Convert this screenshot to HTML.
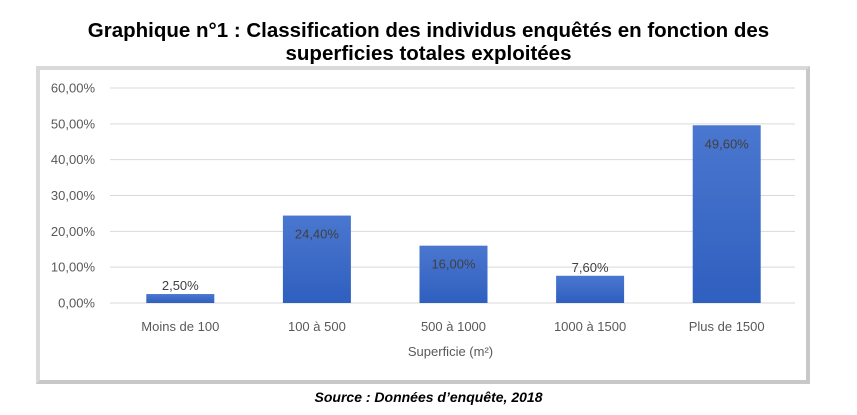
<!DOCTYPE html>
<html><head><meta charset="utf-8"><style>
body{margin:0;width:857px;height:415px;background:#fff;font-family:"Liberation Sans",sans-serif;position:relative;overflow:hidden}
.title{position:absolute;left:0;width:857px;top:19px;text-align:center;font-weight:bold;font-size:20.5px;line-height:23px;color:#000}
.frame{position:absolute;left:36px;top:66px;width:766px;height:310px;border:4px solid #d9d9d9;border-right-color:#c8c8c8;border-bottom-color:#c8c8c8;background:#fff}
.src{position:absolute;left:0;width:857px;top:389px;text-align:center;font-style:italic;font-weight:bold;font-size:14px}
</style></head><body>
<div class="title">Graphique n°1 : Classification des individus enquêtés en fonction des<br>superficies totales exploitées</div>
<div class="frame"></div>
<svg id="chart" width="857" height="415" style="position:absolute;left:0;top:0"></svg>
<div class="src">Source : Données d’enquête, 2018</div>
<script>
const categories=["Moins de 100","100 à 500","500 à 1000","1000 à 1500","Plus de 1500"];
const values=[2.5,24.4,16.0,7.6,49.6];
const valueLabels=["2,50%","24,40%","16,00%","7,60%","49,60%"];
const ticks=[0,10,20,30,40,50,60];
const tickLabels=["0,00%","10,00%","20,00%","30,00%","40,00%","50,00%","60,00%"];
const svg=document.getElementById('chart');const NS="http://www.w3.org/2000/svg";
const x0=112,x1=795,y0=303,y1=88,vmax=60;
const y=v=>y0-(y0-y1)*v/vmax;
const band=(x1-x0)/categories.length;
const xc=i=>x0+band*(i+0.5);
function mk(t,a,txt){const e=document.createElementNS(NS,t);for(const k in a)e.setAttribute(k,a[k]);if(txt!==undefined)e.textContent=txt;svg.appendChild(e);return e;}
const defs=mk('defs',{});
defs.innerHTML='<linearGradient id="g" x1="0" y1="0" x2="0" y2="1"><stop offset="0" stop-color="#4a77cf"/><stop offset="1" stop-color="#2f5fbf"/></linearGradient>';
ticks.forEach((t,i)=>{
const l=mk('line',{x1:x0-2,x2:x1,y1:y(t),y2:y(t),stroke:'#d9d9d9','stroke-width':1});


const tx=mk('text',{x:95,y:y(t)+4.5,'text-anchor':'end','font-size':13,fill:'#595959'},tickLabels[i]);


});
values.forEach((v,i)=>{
const w=68;
const r=mk('rect',{x:xc(i)-w/2,y:y(v),width:w,height:y0-y(v),fill:'url(#g)'});


const lbl=mk('text',{x:xc(i),y:(v>10?y(v)+23:y(v)-4),'text-anchor':'middle','font-size':13,fill:'#404040'},valueLabels[i]);


const c=mk('text',{x:xc(i),y:331,'text-anchor':'middle','font-size':13,fill:'#595959'},categories[i]);


});
const at=mk('text',{x:(x0+x1)/2-3,y:356,'text-anchor':'middle','font-size':13,fill:'#595959'},'Superficie (m²)');


</script>
</body></html>
